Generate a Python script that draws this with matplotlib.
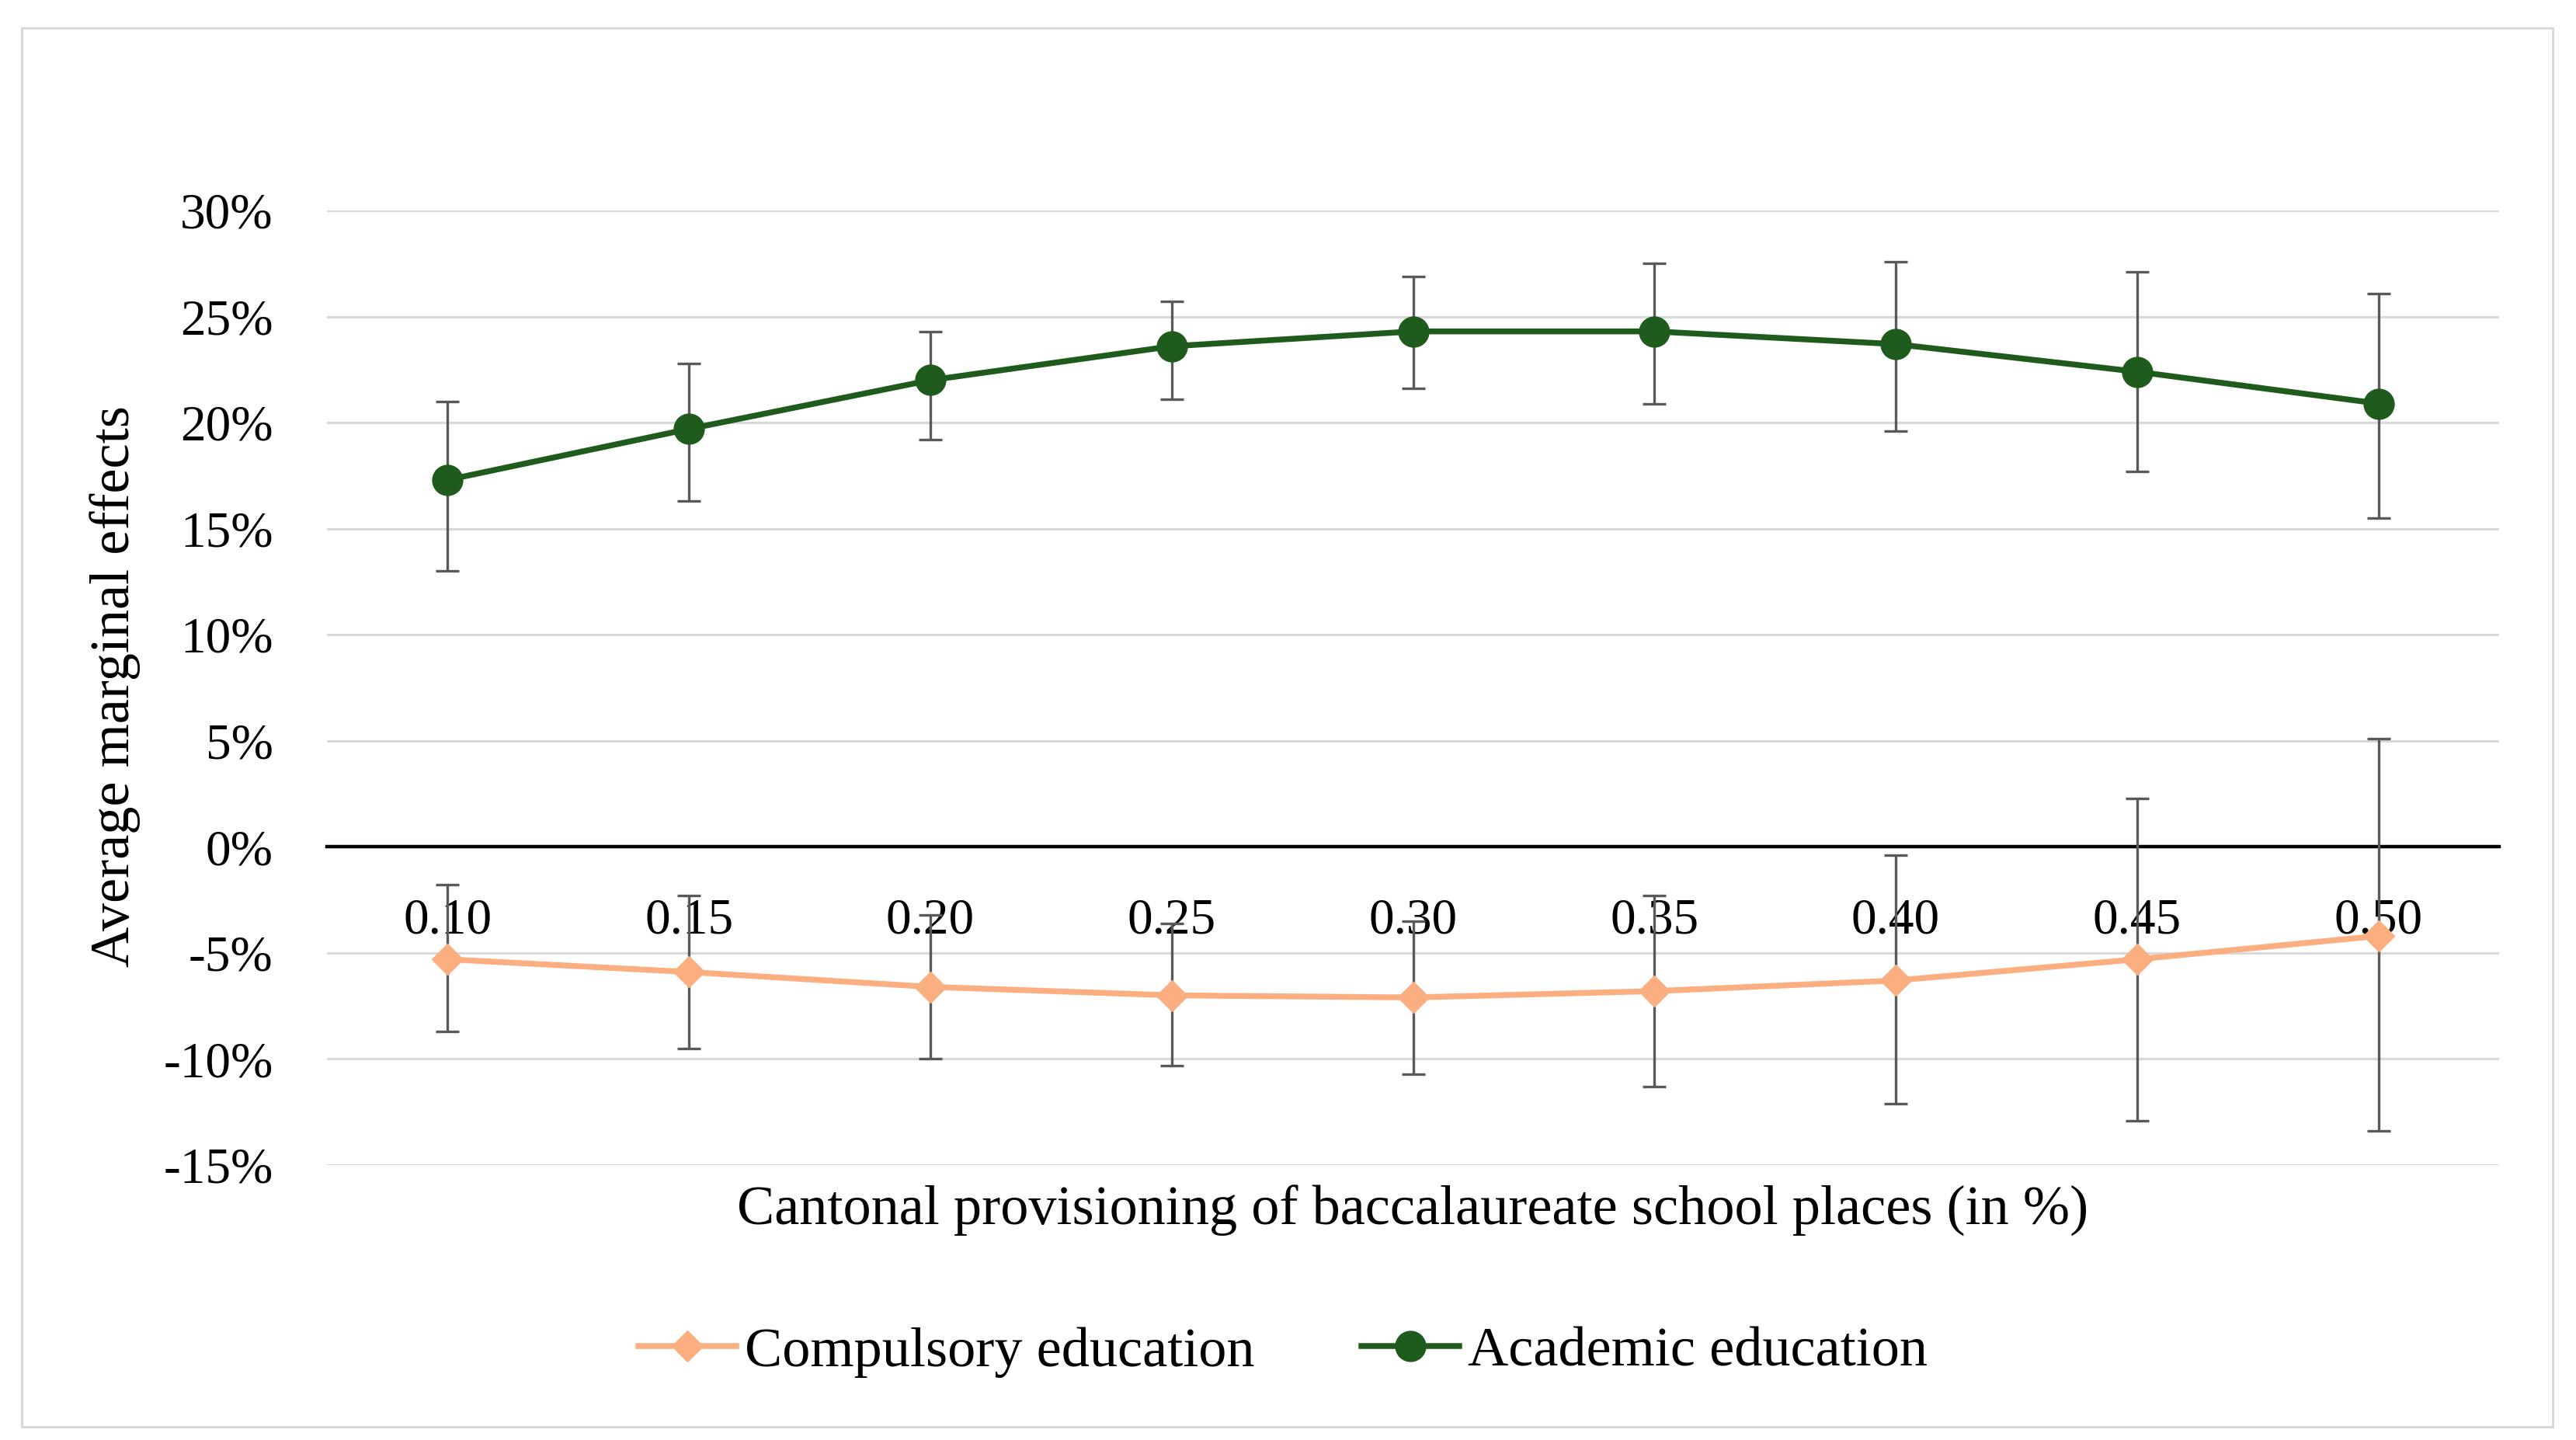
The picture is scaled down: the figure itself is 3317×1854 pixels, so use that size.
import matplotlib
matplotlib.use("Agg")
import matplotlib.pyplot as plt
from matplotlib.patches import Rectangle
from matplotlib.ticker import FuncFormatter, MultipleLocator

plt.rcParams['font.family'] = ['Liberation Serif', 'DejaVu Serif']

# ---- data (percent) ----
x_labels = ['0.10', '0.15', '0.20', '0.25', '0.30', '0.35', '0.40', '0.45', '0.50']

compulsory = [-5.3, -5.9, -6.6, -7.0, -7.1, -6.8, -6.3, -5.3, -4.2]
compulsory_lo = [-8.7, -9.5, -10.0, -10.3, -10.7, -11.3, -12.1, -12.9, -13.4]
compulsory_hi = [-1.8, -2.3, -3.2, -3.6, -3.5, -2.3, -0.4, 2.3, 5.1]

academic = [17.3, 19.7, 22.0, 23.6, 24.3, 24.3, 23.7, 22.4, 20.9]
academic_lo = [13.0, 16.3, 19.2, 21.1, 21.6, 20.9, 19.6, 17.7, 15.5]
academic_hi = [21.0, 22.8, 24.3, 25.7, 26.9, 27.5, 27.6, 27.1, 26.1]

series_names = ['Compulsory education', 'Academic education']

# ---- style ----
W, H, DPI = 3317, 1854, 100
FS = 47
FS_T = 52
C_ORANGE = '#FBAE7F'
C_GREEN = '#1F5B1C'
C_ERR = '#595959'
C_GRID = '#D9D9D9'

fig = plt.figure(figsize=(W / DPI, H / DPI), dpi=DPI)
fig.patch.set_facecolor('white')

# outer chart border
fig.add_artist(Rectangle((28 / W, 1 - 1837 / H), (3287 - 28) / W, (1837 - 36) / H,
                         transform=fig.transFigure, fill=False,
                         edgecolor=C_GRID, linewidth=2.2))

ax = fig.add_axes([421 / W, 1 - 1500 / H, (3218 - 421) / W, (1500 - 271) / H])

idx = list(range(len(x_labels)))

def draw(vals, lo, hi, color, marker, ms, name):
    yerr = [[v - l for v, l in zip(vals, lo)], [h - v for v, h in zip(vals, hi)]]
    ax.errorbar(idx, vals, yerr=yerr, fmt='none', ecolor=C_ERR, elinewidth=2.4,
                capsize=11, capthick=2.4, zorder=3)
    line, = ax.plot(idx, vals, color=color, linewidth=5.4, marker=marker,
                    markersize=ms, markerfacecolor=color, markeredgecolor=color,
                    zorder=4, label=name)
    return line

h1 = draw(compulsory, compulsory_lo, compulsory_hi, C_ORANGE, 'D', 20, series_names[0])
h2 = draw(academic, academic_lo, academic_hi, C_GREEN, 'o', 28, series_names[1])

ax.set_xlim(-0.5, len(x_labels) - 0.5)
ax.set_ylim(-15, 30)
ax.yaxis.set_major_locator(MultipleLocator(5))
ax.yaxis.set_major_formatter(FuncFormatter(lambda v, p: f'{v:.0f}%'))
ax.set_xticks(idx)
ax.set_xticklabels(x_labels)

ax.grid(axis='y', color=C_GRID, linewidth=2.2)
ax.set_axisbelow(True)
for s in ['top', 'right', 'left']:
    ax.spines[s].set_visible(False)
ax.spines['bottom'].set_position(('data', 0))
ax.spines['bottom'].set_color('black')
ax.spines['bottom'].set_linewidth(3.2)
ax.spines['bottom'].set_zorder(2.5)

ax.tick_params(axis='x', length=0, pad=47, labelsize=FS, colors='black')
ax.tick_params(axis='y', length=0, pad=50, labelsize=FS, colors='black')
for t in ax.get_xticklabels():
    t.set_zorder(5)

fig.text(148 / W, 1 - 884 / H, 'Average marginal effects', rotation=90,
         ha='center', va='center', fontsize=FS_T)
fig.text(1819 / W, 1 - 1559 / H,
         'Cantonal provisioning of baccalaureate school places (in %)',
         ha='center', va='center', fontsize=FS_T)

fig.legend(handles=[h1, h2], loc='center', bbox_to_anchor=(1652 / W, 1 - 1741 / H),
           ncol=2, frameon=False, fontsize=FS_T, handlelength=1.75,
           handletextpad=0.15, columnspacing=1.9)

fig.savefig('out.png', dpi=DPI, facecolor='white')
